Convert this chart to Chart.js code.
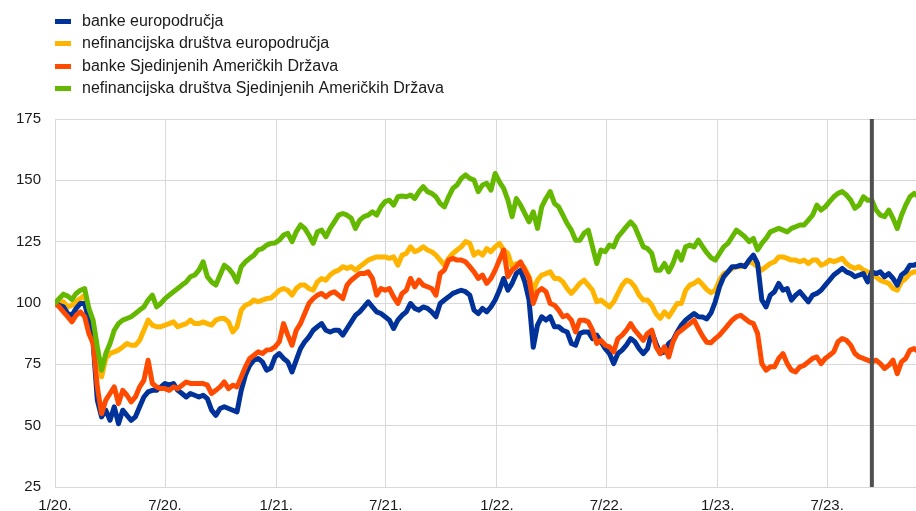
<!DOCTYPE html>
<html>
<head>
<meta charset="utf-8">
<script src="https://cdn.jsdelivr.net/npm/chart.js@4.4.1/dist/chart.umd.min.js"></script>
<style>
  html, body { margin: 0; padding: 0; background: #fff; }
  #wrap { width: 916px; height: 511px; }
</style>
</head>
<body>
<div id="wrap"><canvas id="stockChart" width="916" height="511"></canvas></div>
<script>
// weekly observations, counted in days from 1 Jan 2020, last one late Nov 2023
const days = [];
for (let k = 0; k <= 203; k++) days.push(k * 7);
days.push(1424);

const tickDays = [0, 182, 366, 547, 731, 912, 1096, 1277];
const tickLabels = ["1/20.", "7/20.", "1/21.", "7/21.", "1/22.", "7/22.", "1/23.", "7/23."];
const eventDay = 1351;

const euBanks = [
  100, 99.1, 98.4, 95.7, 95, 97.8, 99.8, 99.8, 93, 84,
  60.4, 53.6, 56.3, 52.2, 57.7, 50.8, 56.3, 54.2, 52.2, 53.6,
  57.7, 61.7, 63.8, 64.4, 64.4, 65.8, 67.2, 66.5, 67.2, 64.4,
  63.1, 61.7, 63.1, 62.4, 61.7, 62.4, 61, 56.3, 54.2, 57,
  57.7, 57, 56.3, 55.6, 64.4, 70.6, 74.6, 76.7, 77.4, 76,
  72.6, 73.5, 78, 79.4, 77.4, 76, 71.9, 76.7, 81.4, 84.2,
  86.2, 88.9, 90.3, 91.6, 88.9, 88.2, 88.9, 88.9, 86.9, 89.6,
  92.3, 95, 96.4, 98.4, 100.5, 98.4, 96.4, 95.7, 94.4, 93,
  89.6, 93, 95, 96.4, 99.8, 97.8, 97.1, 98.4, 97.8, 96.4,
  94.4, 99.8, 101.2, 102.5, 103.9, 104.6, 105.2, 104.6, 103.2, 97.1,
  95.7, 97.8, 96.4, 98.4, 101.2, 105.2, 110, 105.2, 108, 112,
  113.4, 108.6, 101.2, 82, 91, 94.4, 93, 94.4, 90.3, 90.3,
  88.9, 88.2, 83.5, 82.8, 87.6, 88.2, 88.2, 85.5, 86.9, 84.2,
  81.4, 79.4, 75.3, 79.4, 80.8, 82.8, 85.5, 84.2, 81.4, 79.4,
  81.4, 88.2, 83.5, 79.4, 80.1, 83.5, 84.8, 88.2, 91, 93,
  94.4, 95.7, 94.4, 94.3, 93.5, 96, 100.5, 106.6, 110.7, 112.7,
  114.8, 114.8, 115.4, 114.8, 117.5, 119.5, 116.1, 101.2, 98.4, 103.2,
  104.6, 108, 105.2, 105.9, 101.2, 103.2, 104.6, 102.5, 100.5, 103.2,
  103.9, 105.2, 107.3, 109.3, 111.4, 112.7, 114.1, 112.7, 112, 110.7,
  111.4, 112, 108.6, 112.7, 112, 112.7, 110.7, 112, 110, 107.3,
  111.4, 112.7, 115.4, 115.4, 115.8
];

const euCorporates = [
  100, 100.5, 100.5, 98.4, 99.1, 100.5, 101.8, 103.2, 95.7, 90.3,
  80.8, 69.9, 77.4, 79.4, 80.1, 80.8, 82.1, 83.5, 82.8, 82.8,
  84.8, 88.9, 93, 91, 90.3, 90.3, 91, 91.6, 92.3, 90.3,
  91, 91.6, 93, 91.6, 91.6, 92.3, 91.6, 91, 93, 93.7,
  93.7, 92.3, 88.2, 90.3, 97.1, 99.1, 99.8, 101.2, 100.5, 101.2,
  101.8, 102, 103.5, 105.2, 105.9, 105.2, 103.2, 105.9, 107.3, 107.3,
  105.9, 105.2, 108.6, 110, 109.3, 111.4, 112.7, 113.4, 114.8, 114.1,
  114.8, 113.4, 114.8, 116.1, 117.5, 118.2, 118.8, 118.8, 118.8, 118.2,
  118.8, 115.4, 119.5, 120.2, 122.9, 120.9, 121.6, 122.9, 121.6, 120.9,
  119.5, 117.5, 115.4, 118.2, 120.2, 121.6, 122.9, 125, 124.3, 119.5,
  120.9, 119.5, 122.2, 120.9, 122.9, 124.3, 121.6, 120.2, 114.8, 116.1,
  116.1, 114.1, 110.7, 105.2, 109.3, 111.4, 112, 112.7, 110, 110,
  108.6, 105.9, 103.9, 105.9, 108, 109.3, 107.3, 105.2, 100.5, 101.2,
  99.8, 98.4, 100.5, 103.9, 107.3, 109.3, 108.6, 106.6, 103.2, 101.2,
  101.2, 99.1, 95.7, 93.7, 96.4, 94.4, 97.1, 99.8, 99.8, 105.2,
  107.3, 108, 109.3, 107.5, 105.5, 104.2, 105.2, 109.3, 112, 112.7,
  114.1, 114.8, 114.8, 115.4, 116.8, 116.1, 114.8, 113.4, 114.8, 116.1,
  116.8, 118.8, 118.8, 118.2, 117.5, 117.5, 116.8, 117.5, 116.1, 117.5,
  117.5, 115.4, 116.1, 117.5, 116.8, 117.5, 118.2, 116.1, 114.8, 114.1,
  114.8, 113.4, 112.7, 112, 110.7, 109.3, 108.6, 108, 105.9, 105.2,
  108.6, 110, 112, 112.7, 112.7
];

const usBanks = [
  100, 98.4, 96.4, 94.4, 92.3, 95, 96.4, 94.4, 87.6, 83.5,
  65.8, 54.9, 60.4, 63.1, 65.8, 59, 64.4, 62.4, 59.7, 61.7,
  65.8, 68.5, 76.7, 67.2, 65.8, 65.1, 65.1, 64.4, 65.8, 65.1,
  66.5, 67.8, 67.2, 67.2, 67.2, 67.2, 66.5, 63.1, 64.4, 65.8,
  67.8, 65.1, 66.5, 65.8, 69.9, 74, 77.4, 78.7, 80.1, 79.4,
  80.8, 81, 82.1, 84.2, 91.6, 86.9, 82.8, 88.9, 91.6, 95.7,
  99.8, 101.8, 103.2, 103.9, 102.5, 103.9, 104.6, 103.2, 101.8, 107.3,
  109.3, 110.7, 112, 112, 112.7, 110, 103.2, 105.9, 105.2, 105.9,
  102.5, 99.8, 103.9, 105.2, 110, 106.6, 109.3, 107.3, 106.6, 105.9,
  103.2, 112, 113.4, 117.5, 118.2, 117.5, 117.5, 116.8, 114.8, 112.7,
  110, 111.4, 108, 110, 113.4, 117.5, 121.6, 110.7, 113.4, 114.8,
  116.8, 113.4, 110, 99.8, 104.6, 105.9, 104.6, 99.8, 99.1, 97.1,
  94.4, 95, 93, 88.2, 93, 93, 92.3, 88.9, 83.5, 84.8,
  82.8, 82.1, 80.1, 85.5, 86.9, 88.9, 91.6, 88.9, 86.9, 84.8,
  87.6, 88.9, 82.1, 79.4, 82.1, 78, 84.2, 87.6, 88.9, 90.3,
  91.6, 93, 89.6, 86.5, 84, 83.8, 85.5, 86.9, 88.9, 91,
  93, 94.4, 95, 93.7, 92.3, 91.6, 87.6, 75.3, 72.6, 74,
  74, 77.4, 79.4, 75.3, 72.6, 71.9, 74, 74.6, 76, 77.4,
  78, 75.3, 77.4, 78.7, 80.1, 84.2, 85.5, 84.8, 82.8, 79.4,
  78, 77.4, 76.7, 76, 76.7, 75.3, 73.3, 74.6, 76.7, 71.2,
  76, 77.4, 80.8, 81.4, 80.8
];

const usCorporates = [
  100, 101.8, 103.6, 102.8, 101.4, 103.9, 105.2, 105.9, 97.8, 93,
  82.1, 72.6, 79.4, 83.5, 88.9, 91.6, 93, 93.7, 94.4, 95.7,
  97.1, 98.4, 101.2, 103.2, 98.4, 99.8, 101.8, 103.2, 104.6, 105.9,
  107.3, 108.6, 110.7, 111.4, 113.4, 116.8, 110.7, 108.6, 107.3, 111.4,
  115.4, 114.1, 112, 108.6, 114.8, 116.8, 118.2, 119.5, 121.6, 122.2,
  123.6, 124.3, 124.5, 125.6, 127.7, 128.4, 125, 129, 131.8, 130.4,
  127.7, 124.3, 129, 129.7, 127, 130.4, 133.1, 135.8, 136.5, 135.8,
  134.5, 130.4, 133.8, 135.2, 135.8, 137.2, 135.8, 139.2, 141.3, 141.9,
  139.9, 143.3, 143.6, 143.3, 144, 142.6, 145.4, 147.4, 145.4, 144.7,
  143.3, 140.6, 139.2, 143.3, 146.7, 148.1, 150.8, 152.2, 150.8, 150.1,
  145.4, 148.1, 148.8, 146, 152.8, 149.4, 146.7, 142, 135.2, 142.6,
  139.9, 136.5, 133.1, 137.2, 130.4, 139.2, 142.6, 145.4, 140.6, 139.2,
  135.8, 132.4, 129.7, 125.6, 125.6, 128.4, 129.7, 122.9, 116.1, 121.6,
  120.9, 123.6, 122.9, 127, 129, 131.1, 133.1, 131.1, 127, 122.9,
  122.2, 120.2, 113.4, 113.4, 116.1, 112.7, 116.1, 120.9, 117.5, 122.9,
  123.6, 122.9, 125.6, 123, 120.5, 118.5, 117.5, 120.2, 122.9, 124.3,
  127, 129.7, 128.4, 127, 125, 126.3, 121.6, 124.3, 126.3, 129,
  129.7, 130.4, 129.7, 129, 130.4, 131.1, 131.8, 131.8, 133.8, 135.8,
  139.9, 137.9, 139.2, 141.3, 143.3, 144.7, 145.4, 144, 141.9, 138.6,
  139.9, 143.3, 141.9, 141.9, 137.9, 135.8, 135.2, 137.9, 134.5, 130.4,
  135.8, 139.9, 143.3, 144.7, 144
];

const seriesNames = [
  "banke europodručja",
  "nefinancijska društva europodručja",
  "banke Sjedinjenih Američkih Država",
  "nefinancijska društva Sjedinjenih Američkih Država"
];

const FONT = '"Liberation Sans", Arial, sans-serif';

function toPoints(values) {
  return values.map((v, i) => ({ x: days[i], y: v }));
}

function lineSet(label, values, color, order) {
  return {
    label: label,
    data: toPoints(values),
    borderColor: color,
    backgroundColor: color,
    borderWidth: 5,
    pointRadius: 0,
    tension: 0,
    borderJoinStyle: "round",
    borderCapStyle: "round",
    order: order
  };
}

// legend drawn one entry per row, in dataset order
const rowLegend = {
  id: "rowLegend",
  afterDraw(chart) {
    const c = chart.ctx;
    c.save();
    c.font = "16px " + FONT;
    c.textBaseline = "middle";
    c.textAlign = "left";
    chart.data.datasets.forEach((ds, i) => {
      const y = 21 + i * 22.35;
      c.fillStyle = ds.borderColor;
      c.fillRect(55, Math.round(y) - 2, 16, 5);
      c.fillStyle = "#1a1a1a";
      c.fillText(ds.label, 82, y + 0.5);
    });
    c.restore();
  }
};

// dark vertical marker
const eventLine = {
  id: "eventLine",
  afterDatasetsDraw(chart) {
    const x = chart.scales.x.getPixelForValue(eventDay);
    const area = chart.chartArea;
    const c = chart.ctx;
    c.save();
    c.strokeStyle = "#505050";
    c.lineWidth = 4;
    c.beginPath();
    c.moveTo(x, area.top);
    c.lineTo(x, area.bottom);
    c.stroke();
    c.restore();
  }
};

const ctx = document.getElementById("stockChart").getContext("2d");
const chart = new Chart(ctx, {
  type: "line",
  data: {
    datasets: [
      lineSet(seriesNames[0], euBanks, "#003299", 2),
      lineSet(seriesNames[1], euCorporates, "#ffb400", 3),
      lineSet(seriesNames[2], usBanks, "#ff4b00", 1),
      lineSet(seriesNames[3], usCorporates, "#65b800", 0)
    ]
  },
  options: {
    responsive: false,
    animation: false,
    layout: { padding: { top: 119, left: 0, right: 0, bottom: 0 } },
    plugins: {
      legend: { display: false },
      tooltip: { enabled: false }
    },
    scales: {
      x: {
        type: "linear",
        min: 0,
        max: 1424,
        afterBuildTicks: (axis) => {
          axis.ticks = tickDays.map((d) => ({ value: d }));
        },
        afterFit: (axis) => { axis.height = 24; },
        grid: { color: "#d9d9d9", lineWidth: 1, drawTicks: false },
        border: { color: "#d9d9d9" },
        ticks: {
          autoSkip: false,
          maxRotation: 0,
          padding: 10,
          color: "#1a1a1a",
          font: { size: 15, family: FONT },
          callback: (value, index) => tickLabels[index]
        }
      },
      y: {
        min: 25,
        max: 175,
        afterFit: (axis) => { axis.width = 55; },
        grid: { color: "#d9d9d9", lineWidth: 1, drawTicks: false },
        border: { color: "#d9d9d9" },
        ticks: {
          stepSize: 25,
          padding: 14,
          color: "#1a1a1a",
          font: { size: 15, family: FONT }
        }
      }
    }
  },
  plugins: [rowLegend, eventLine]
});
</script>
</body>
</html>
